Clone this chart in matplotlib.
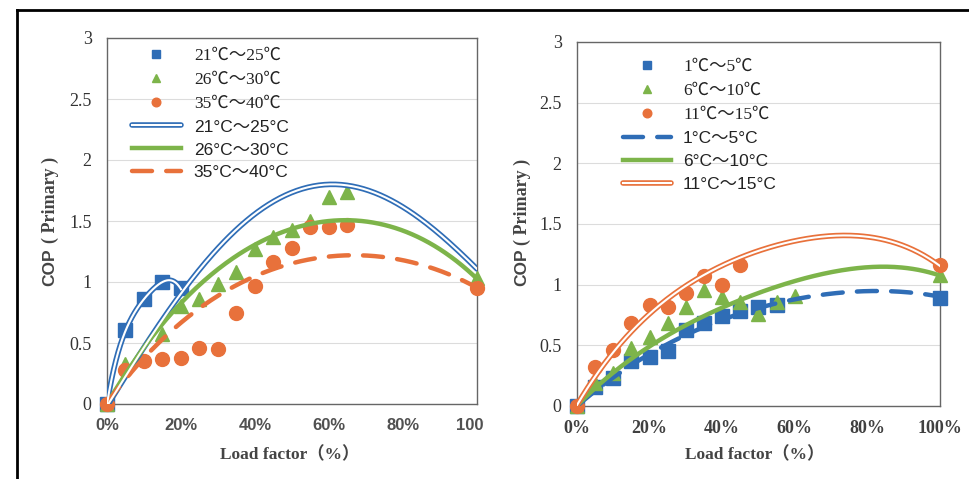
import numpy as np
import matplotlib
matplotlib.use('Agg')
import matplotlib.pyplot as plt
from matplotlib.lines import Line2D
from matplotlib.transforms import Bbox, TransformedBbox

# ---- data ----
# left panel: cooling
sq_x_l = [0, 5, 10, 15, 20]
sq_y_l = [0, 0.61, 0.86, 1.0, 0.95]
tri_x_l = [0, 5, 15, 20, 25, 30, 35, 40, 45, 50, 55, 60, 65, 100]
tri_y_l = [0, 0.33, 0.57, 0.8, 0.86, 0.98, 1.08, 1.27, 1.37, 1.43, 1.5, 1.7, 1.74, 1.03]
circ_x_l = [0, 5, 10, 15, 20, 25, 30, 35, 40, 45, 50, 55, 60, 65, 100]
circ_y_l = [0, 0.28, 0.35, 0.37, 0.38, 0.46, 0.45, 0.75, 0.97, 1.16, 1.28, 1.45, 1.45, 1.47, 0.95]

fit_x = [0, 10, 20, 30, 40, 50, 60, 70, 80, 90, 100]
fit_blue_l = [0, 0.42, 0.92, 1.3, 1.57, 1.72, 1.78, 1.76, 1.62, 1.4, 1.1]
fit_green_l = [0, 0.46, 0.84, 1.1, 1.3, 1.43, 1.51, 1.5, 1.42, 1.26, 1.03]
fit_orange_l = [0, 0.4, 0.66, 0.88, 1.04, 1.15, 1.22, 1.23, 1.17, 1.08, 0.96]
low_blue_x = [0, 5, 10, 15, 20]
low_blue_y = [0, 0.6, 0.86, 1.0, 0.94]

labels_l = ['21℃～25℃', '26℃～30℃', '35℃～40℃', '21°C～25°C', '26°C～30°C', '35°C～40°C']

# right panel: heating
sq_x_r = [0, 5, 10, 15, 20, 25, 30, 35, 40, 45, 50, 55, 100]
sq_y_r = [0, 0.16, 0.23, 0.37, 0.4, 0.45, 0.63, 0.68, 0.74, 0.78, 0.82, 0.83, 0.89]
tri_x_r = [0, 5, 10, 15, 20, 25, 30, 35, 40, 45, 50, 55, 60, 100]
tri_y_r = [0, 0.19, 0.27, 0.48, 0.57, 0.68, 0.82, 0.96, 0.9, 0.86, 0.76, 0.86, 0.91, 1.08]
circ_x_r = [0, 5, 10, 15, 20, 25, 30, 35, 40, 45, 100]
circ_y_r = [0, 0.32, 0.46, 0.68, 0.83, 0.82, 0.93, 1.07, 1.0, 1.16, 1.16]

fit_blue_r = [0, 0.24, 0.41, 0.6, 0.72, 0.8, 0.87, 0.93, 0.95, 0.94, 0.9]
fit_green_r = [0, 0.28, 0.5, 0.66, 0.8, 0.93, 1.04, 1.11, 1.14, 1.13, 1.08]
fit_orange_r = [0, 0.46, 0.76, 0.98, 1.15, 1.28, 1.37, 1.41, 1.39, 1.31, 1.16]

labels_r = ['1℃～5℃', '6℃～10℃', '11℃～15℃', '1°C～5°C', '6°C～10°C', '11°C～15°C']

yticks = [0, 0.5, 1, 1.5, 2, 2.5, 3]
ytick_labels = ['0', '0.5', '1', '1.5', '2', '2.5', '3']
xticks = [0, 20, 40, 60, 80, 100]
xtick_labels = ['0%', '20%', '40%', '60%', '80%', '100%']

BLUE = '#2f6db6'
GREEN = '#7db44a'
ORANGE = '#e8713b'

SERIF = ['Liberation Serif', 'Noto Sans CJK JP']
SANS = ['Liberation Sans', 'Noto Sans CJK JP']

W, H = 970, 479


def trend(xs, ys, deg):
    c = np.polyfit(xs, ys, deg)
    xx = np.linspace(min(xs), max(xs), 200)
    return xx, np.polyval(c, xx)


def double_line(ax, xs, ys, deg, color):
    xx, yy = trend(xs, ys, deg)
    a, = ax.plot(xx, yy, color=color, lw=4.0, solid_capstyle='round', zorder=4)
    b, = ax.plot(xx, yy, color='white', lw=1.5, zorder=5)
    return (a, b)


def setup(ax, xfam, xsize, xcolor):
    ax.set_xlim(0, 100)
    ax.set_ylim(0, 3)
    ax.set_yticks(yticks)
    ax.set_yticklabels(ytick_labels, family=SERIF, fontsize=13, color='#333333')
    ax.set_xticks(xticks)
    ax.set_xticklabels(xtick_labels, family=xfam, fontsize=xsize, fontweight='bold', color=xcolor)
    ax.tick_params(length=0)
    ax.tick_params(axis='y', pad=11)
    ax.tick_params(axis='x', pad=10)
    ax.grid(axis='y', color='#dcdcdc', lw=0.8)
    ax.set_axisbelow(True)
    for s in ax.spines.values():
        s.set_color('#666666')
        s.set_linewidth(1.0)


def px(x, y):
    return x / W, 1 - y / H


fig = plt.figure(figsize=(9.7, 4.79), dpi=100)
fig.patch.set_facecolor('white')

ax1 = fig.add_axes([107 / W, 1 - 404 / H, 370 / W, 366 / H])
ax2 = fig.add_axes([577 / W, 1 - 406 / H, 363 / W, 364 / H])

# ---- left panel ----
setup(ax1, SANS, 12, '#505050')
s1, = ax1.plot(sq_x_l, sq_y_l, 's', color=BLUE, ms=9.5, ls='none', zorder=3, clip_on=False)
t1, = ax1.plot(tri_x_l, tri_y_l, '^', color=GREEN, ms=10, ls='none', zorder=3, clip_on=False)
c1, = ax1.plot(circ_x_l, circ_y_l, 'o', color=ORANGE, ms=10, ls='none', zorder=3, clip_on=False)
bl1 = double_line(ax1, fit_x, fit_blue_l, 4, BLUE)
double_line(ax1, low_blue_x, low_blue_y, 4, BLUE)
xx, yy = trend(fit_x, fit_green_l, 4)
g1, = ax1.plot(xx, yy, color=GREEN, lw=3.2, zorder=4)
xx, yy = trend(fit_x, fit_orange_l, 4)
o1, = ax1.plot(xx, yy, color=ORANGE, lw=3.2, dashes=(4.5, 3.2), dash_capstyle='round', zorder=4)

leg1 = ax1.legend([s1, t1, c1, bl1, g1, o1], labels_l, loc='upper left',
                  bbox_to_anchor=(0.068, 0.974), frameon=False, fontsize=12.5,
                  handlelength=2.8, handletextpad=0.75, labelspacing=0.45,
                  borderaxespad=0, borderpad=0, markerscale=0.62)
for i, t in enumerate(leg1.get_texts()):
    t.set_family(SERIF if i < 3 else SANS)
    t.set_color('#222222')

# the scan cuts the last left tick label at the panel edge
last = ax1.get_xticklabels()[-1]
last.set_clip_box(TransformedBbox(Bbox([[0, 0], [484 / W, 1]]), fig.transFigure))
last.set_clip_on(True)

# ---- right panel ----
setup(ax2, SERIF, 13, '#404040')
s2, = ax2.plot(sq_x_r, sq_y_r, 's', color=BLUE, ms=9.5, ls='none', zorder=3, clip_on=False)
t2, = ax2.plot(tri_x_r, tri_y_r, '^', color=GREEN, ms=10, ls='none', zorder=3, clip_on=False)
c2, = ax2.plot(circ_x_r, circ_y_r, 'o', color=ORANGE, ms=10, ls='none', zorder=3, clip_on=False)
xx, yy = trend(fit_x, fit_blue_r, 4)
b2, = ax2.plot(xx, yy, color=BLUE, lw=3.2, dashes=(4.5, 3.2), dash_capstyle='round', zorder=4)
xx, yy = trend(fit_x, fit_green_r, 4)
g2, = ax2.plot(xx, yy, color=GREEN, lw=3.2, zorder=4)
or2 = double_line(ax2, fit_x, fit_orange_r, 4, ORANGE)

leg2 = ax2.legend([s2, t2, c2, b2, g2, or2], labels_r, loc='upper left',
                  bbox_to_anchor=(0.127, 0.953), frameon=False, fontsize=12.5,
                  handlelength=2.75, handletextpad=0.7, labelspacing=0.45,
                  borderaxespad=0, borderpad=0, markerscale=0.62)
for i, t in enumerate(leg2.get_texts()):
    t.set_family(SERIF if i < 3 else SANS)
    t.set_color('#222222')

# ---- axis titles ----
for cx, cy_cop, cy_pri, xl_x in [(50, 267, 200, 290), (522, 267, 202, 755)]:
    fig.text(*px(cx, cy_cop), 'COP', rotation=90, ha='center', va='center',
             family=SANS, fontsize=12.5, fontweight='bold', color='#444444')
    fig.text(*px(cx, cy_pri), '( Primary )', rotation=90, ha='center', va='center',
             family=SERIF, fontsize=13, fontweight='bold', color='#444444')
    fig.text(*px(xl_x, 455), 'Load factor（%）', ha='center', va='center',
             family=SERIF, fontsize=12.5, fontweight='bold', color='#444444')

# outer frame of the scanned figure
fig.add_artist(Line2D([17 / W, 1], [1 - 10 / H, 1 - 10 / H], color='black', lw=2))
fig.add_artist(Line2D([17 / W, 17 / W], [0, 1 - 10 / H], color='black', lw=2))

fig.savefig('out.png', dpi=100)
